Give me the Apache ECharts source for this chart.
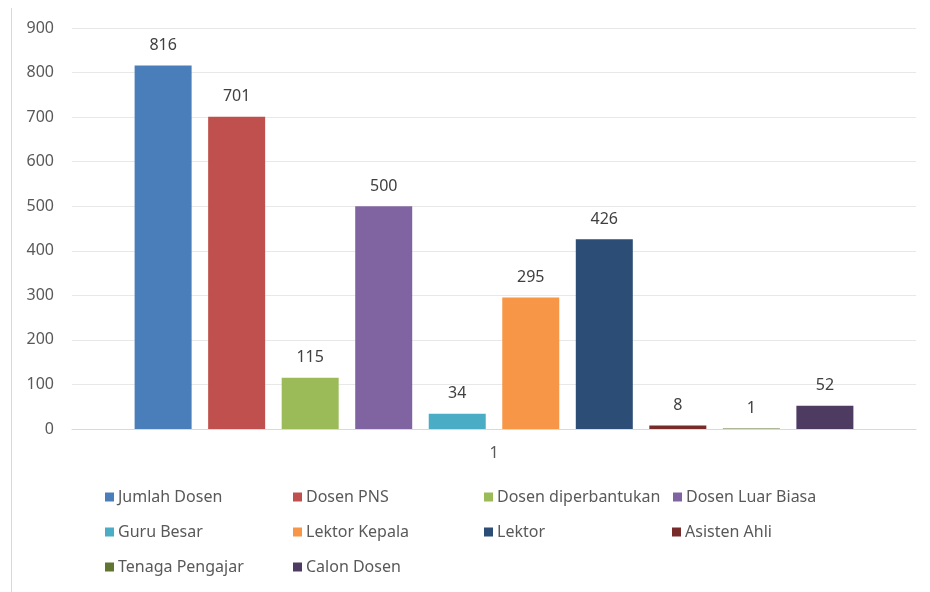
<!DOCTYPE html>
<html>
<head>
<meta charset="utf-8">
<script src="https://cdn.jsdelivr.net/npm/echarts@6/dist/echarts.min.js"></script>
<style>html,body{margin:0;padding:0;background:#fff}#c{width:930px;height:592px}</style>
</head>
<body>
<div id="c"></div>
<script>
const categories = ['1'];
const seriesNames = ['Jumlah Dosen','Dosen PNS','Dosen diperbantukan','Dosen Luar Biasa','Guru Besar','Lektor Kepala','Lektor','Asisten Ahli','Tenaga Pengajar','Calon Dosen'];
const seriesValues = [816, 701, 115, 500, 34, 295, 426, 8, 1, 52];
const seriesColors = ['#4a7ebb','#c0504d','#9bbb59','#8064a2','#4bacc6','#f79646','#2c4d75','#772c2a','#5f7530','#4d3b62'];
const yTicks = [0,100,200,300,400,500,600,700,800,900];

const legendPos = [
  [105,489],[293,489],[484,489],[673,489],
  [105,524],[293,524],[484,524],[672,524],
  [105,559],[293,559]
];

const FONT = 'Noto Sans';
const chart = echarts.init(document.getElementById('c'), null, {renderer:'canvas'});
chart.setOption({
  animation:false,
  color: seriesColors,
  textStyle:{fontFamily:FONT},
  grid:{left:72, right:14, top:28, bottom:163, containLabel:false},
  graphic:[{type:'line', shape:{x1:11.5,y1:8,x2:11.5,y2:592}, style:{stroke:'#d9d9d9', lineWidth:1}}],
  legend: seriesNames.map((n,i)=>({
    data:[n], left:legendPos[i][0], top:legendPos[i][1], padding:0,
    itemWidth:9, itemHeight:9, itemGap:0, icon:'rect',
    textStyle:{fontFamily:FONT, fontSize:16, color:'#595959', lineHeight:16, padding:[0,0,0,-1]}
  })),
  xAxis:{type:'category', data:categories,
    axisLine:{lineStyle:{color:'#d9d9d9'}}, axisTick:{show:false},
    axisLabel:{color:'#595959', fontSize:16, margin:16, fontFamily:FONT}},
  yAxis:{type:'value', min:0, max:900, interval:100,
    axisLine:{show:false}, axisTick:{show:false},
    splitLine:{lineStyle:{color:'#e8e8e8'}},
    axisLabel:{color:'#595959', fontSize:16, margin:18, fontFamily:FONT,
      formatter:v=>yTicks.includes(v)?String(v):''}},
  series: seriesNames.map((n,i)=>({
    name:n, type:'bar', data:[seriesValues[i]],
    barWidth:57, barGap:'29%',
    label:{show:true, position:'top', distance:12, color:'#404040', fontSize:16, fontFamily:FONT}
  }))
});
</script>
</body>
</html>
